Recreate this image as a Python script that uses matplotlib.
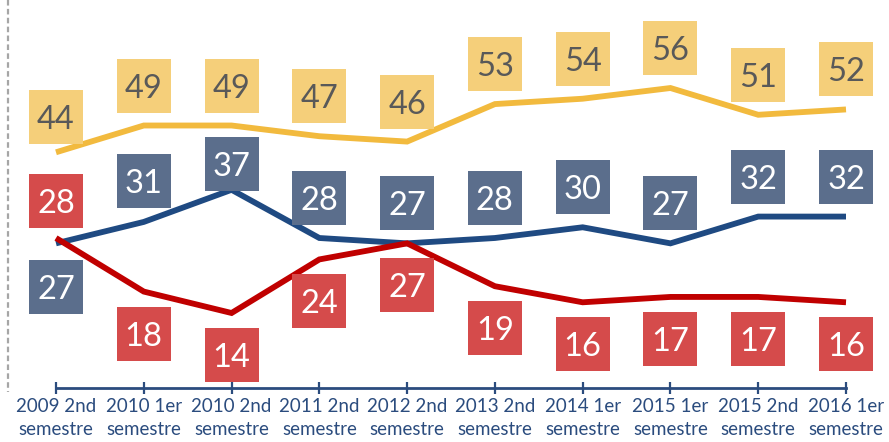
import matplotlib
matplotlib.use("Agg")
import matplotlib.pyplot as plt
from matplotlib.transforms import offset_copy
from matplotlib.lines import Line2D

categories = ["2009 2nd\nsemestre", "2010 1er\nsemestre", "2010 2nd\nsemestre",
              "2011 2nd\nsemestre", "2012 2nd\nsemestre", "2013 2nd\nsemestre",
              "2014 1er\nsemestre", "2015 1er\nsemestre", "2015 2nd\nsemestre",
              "2016 1er\nsemestre"]
yellow_vals = [44, 49, 49, 47, 46, 53, 54, 56, 51, 52]
blue_vals = [27, 31, 37, 28, 27, 28, 30, 27, 32, 32]
red_vals = [28, 18, 14, 24, 27, 19, 16, 17, 17, 16]

# label offsets in pixels (positive = above the line, negative = below)
yellow_off = [35] + [40] * 9
blue_off = [-44, 41, 26] + [40] * 7
red_off = [37] + [-42] * 9

series = [
    (yellow_vals, yellow_off, "#F2BA3E", "#F5CF7A", "#595959"),
    (blue_vals, blue_off, "#1F4A82", "#5B6E8C", "white"),
    (red_vals, red_off, "#C00000", "#D54B4B", "white"),
]

plt.rcParams['font.family'] = ['Lato', 'DejaVu Sans']

W, H = 889, 442
fig = plt.figure(figsize=(W / 100, H / 100), dpi=100)
ax = fig.add_axes([0, 0, 1, 1])

px_x = 87.78
px_y = 5.357
y0_pix = 388  # pixel row (from top) of value 0
ax.set_xlim(-56 / px_x, 9 + 43 / px_x)
ax.set_ylim(-(H - y0_pix) / px_y, y0_pix / px_y)

x = list(range(len(categories)))
for z, (vals, offs, lc, bc, tc) in enumerate(series):
    ax.plot(x, vals, color=lc, lw=4.2, solid_joinstyle='miter', zorder=2 + z,
            solid_capstyle='butt')
for z, (vals, offs, lc, bc, tc) in enumerate(series):
    for xi, v, o in zip(x, vals, offs):
        tr = offset_copy(ax.transData, fig=fig, x=0, y=o, units='dots')
        ax.plot([xi], [v], marker='s', ms=39, mew=0, color=bc, transform=tr,
                zorder=10, clip_on=False)
        ax.text(xi, v, str(v), transform=tr, ha='center', va='center_baseline',
                fontsize=23.5, color=tc, zorder=11)

for side in ['top', 'right', 'left']:
    ax.spines[side].set_visible(False)
ax.spines['bottom'].set_position(('data', 0))
ax.spines['bottom'].set_bounds(0, 9)
ax.spines['bottom'].set_color('#2B4C7E')
ax.spines['bottom'].set_linewidth(2)
ax.set_yticks([])
ax.set_xticks(x)
ax.set_xticklabels(categories, fontsize=13.5, color='#2B4C7E', linespacing=1.4)
ax.tick_params(axis='x', direction='inout', length=8.6, width=1.6,
               color='#2B4C7E', pad=3)
ax.patch.set_visible(False)

fig.add_artist(Line2D([8 / W, 8 / W], [1, 1 - 392 / H], transform=fig.transFigure,
                      color='#A6A6A6', lw=1.6, linestyle=(0, (2.5, 1.5))))

fig.savefig("out.png", dpi=100)
